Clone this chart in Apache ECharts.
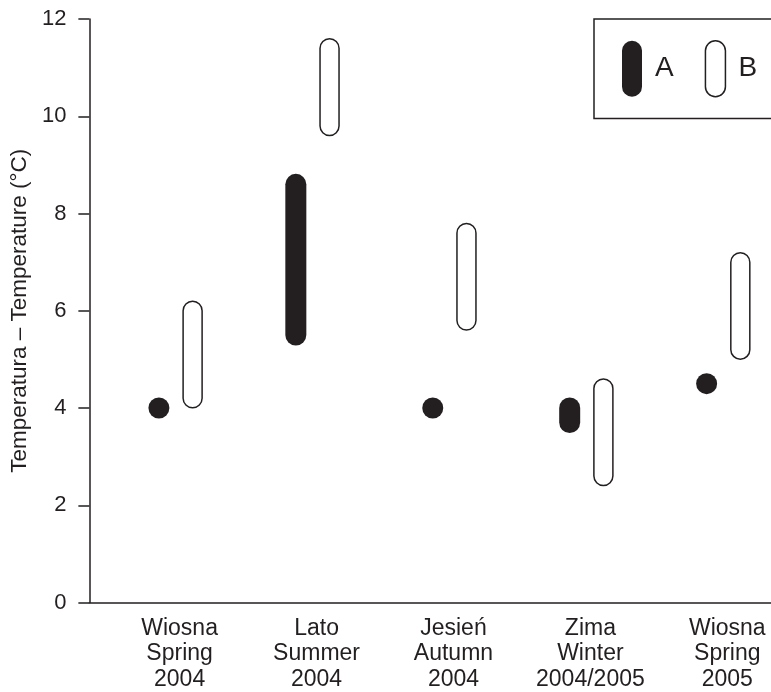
<!DOCTYPE html>
<html>
<head>
<meta charset="utf-8">
<script src="https://cdn.jsdelivr.net/npm/echarts@6/dist/echarts.min.js"></script>
<style>
html,body{margin:0;padding:0;background:#fff;}
#chart{width:771px;height:692px;}
</style>
</head>
<body>
<div id="chart"></div>
<script>
// ---- data ----
const categories = ['Wiosna\nSpring\n2004', 'Lato\nSummer\n2004', 'Jesień\nAutumn\n2004', 'Zima\nWinter\n2004/2005', 'Wiosna\nSpring\n2005'];
const seriesNames = ['A', 'B'];
const aLow  = [4.0, 5.5, 4.0, 3.7, 4.5];
const aHigh = [4.0, 8.6, 4.0, 4.0, 4.5];
const bLow  = [4.2, 9.8, 5.8, 2.6, 5.2];
const bHigh = [6.0, 11.4, 7.6, 4.4, 7.0];
const yTicks = [0, 2, 4, 6, 8, 10, 12];

// ---- styles ----
const INK = '#231f20';
const FONT = '"Liberation Sans", Arial, sans-serif';
const capsulePath = 'path://M10,0 A10,10 0 0 1 20,10 L20,46 A10,10 0 0 1 10,56 A10,10 0 0 1 0,46 L0,10 A10,10 0 0 1 10,0 Z';

function buildData(lo, hi) {
  return categories.map((c, i) => [i, lo[i], hi[i]]);
}

function capsuleRenderer(offsetPx, widthPx, style) {
  return function (params, api) {
    const x = api.value(0), lo = api.value(1), hi = api.value(2);
    const pTop = api.coord([x, hi]);
    const pBot = api.coord([x, lo]);
    const r = widthPx / 2;
    return {
      type: 'rect',
      shape: {
        x: pTop[0] + offsetPx - r,
        y: pTop[1] - r,
        width: widthPx,
        height: (pBot[1] - pTop[1]) + widthPx,
        r: r
      },
      style: style
    };
  };
}

const chart = echarts.init(document.getElementById('chart'), null, {renderer: 'canvas'});
chart.setOption({
  animation: false,
  backgroundColor: '#fff',
  grid: { left: 87.5, right: 0, top: 19, bottom: 86.5 },
  legend: {
    left: 594,
    top: 19,
    width: 300,
    orient: 'horizontal',
    padding: [21, 40, 21, 28],
    itemWidth: 20,
    itemHeight: 56,
    itemGap: 31,
    borderColor: INK,
    borderWidth: 1.5,
    borderRadius: 0,
    textStyle: { fontFamily: FONT, fontSize: 28, color: INK, padding: [0, 0, 0, 8] },
    data: [
      { name: seriesNames[0], icon: capsulePath, itemStyle: { color: INK, borderWidth: 0 } },
      { name: seriesNames[1], icon: capsulePath, itemStyle: { color: '#fff', borderColor: INK, borderWidth: 1.5 } }
    ]
  },
  xAxis: {
    type: 'value',
    min: -0.659,
    max: 4.319,
    splitLine: { show: false },
    axisTick: { show: false },
    axisLine: { show: true, onZero: false, lineStyle: { color: INK, width: 1.5 } },
    axisLabel: {
      customValues: categories.map((c, i) => i),
      formatter: function (v) { return categories[Math.round(v)]; },
      fontFamily: FONT, fontSize: 23, lineHeight: 25.5, color: INK, margin: 13,
      showMinLabel: true, showMaxLabel: true
    }
  },
  yAxis: {
    type: 'value',
    min: yTicks[0],
    max: yTicks[yTicks.length - 1],
    interval: 2,
    name: 'Temperatura – Temperature (°C)',
    nameLocation: 'middle',
    nameGap: 57,
    nameTextStyle: { fontFamily: FONT, fontSize: 22.5, color: INK },
    splitLine: { show: false },
    axisLine: { show: true, onZero: false, lineStyle: { color: INK, width: 1.5 } },
    axisTick: { show: true, length: 11, lineStyle: { color: INK, width: 1.5 } },
    axisLabel: { fontFamily: FONT, fontSize: 22, color: INK, margin: 23 }
  },
  series: [
    {
      name: seriesNames[0],
      type: 'custom',
      itemStyle: { color: INK },
      renderItem: capsuleRenderer(-20.7, 21, { fill: INK }),
      encode: { x: 0, y: [1, 2] },
      data: buildData(aLow, aHigh)
    },
    {
      name: seriesNames[1],
      type: 'custom',
      itemStyle: { color: '#fff', borderColor: INK, borderWidth: 1.5 },
      renderItem: capsuleRenderer(13, 19, { fill: '#fff', stroke: INK, lineWidth: 1.5 }),
      encode: { x: 0, y: [1, 2] },
      data: buildData(bLow, bHigh)
    }
  ]
});
</script>
</body>
</html>
